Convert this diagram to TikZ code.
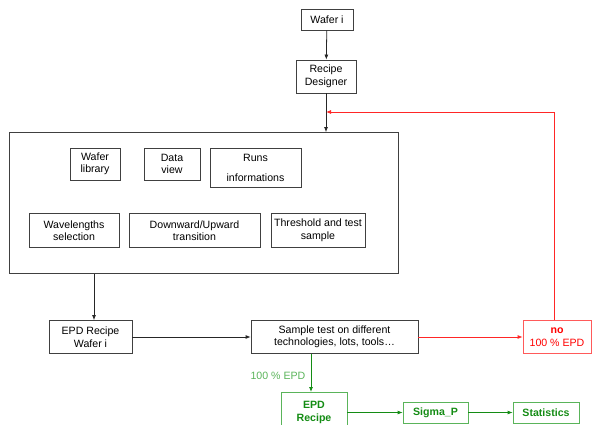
\documentclass[tikz,border=0pt]{standalone}
\usepackage{fontspec}
\setmainfont{Liberation Sans}
\usetikzlibrary{arrows.meta}
\definecolor{myred}{RGB}{255,0,0}
\definecolor{mypink}{RGB}{255,90,90}
\definecolor{mygreen}{RGB}{20,140,20}
\definecolor{mygreenl}{RGB}{90,180,90}
\begin{document}
\begin{tikzpicture}[x=1pt,y=-1pt,
  box/.style={draw=black!75,line width=0.8pt,align=center,inner sep=0pt,font=\fontsize{10.6}{12.5}\selectfont},
  gbox/.style={box,draw=mygreenl,text=mygreen,font=\fontsize{10.6}{12.5}\selectfont\bfseries},
  arr/.style={line width=0.8pt,-{Latex[length=5pt,width=4pt]}},
]
\useasboundingbox (0,0) rectangle (592,425);
\clip (0,0) rectangle (592,425);
% top
\node[box,minimum width=52pt,minimum height=21pt] (wafer) at (327,19.5) {Wafer i};
\node[box,minimum width=60pt,minimum height=33pt] (designer) at (326,76.5) {Recipe\\Designer};
% big box
\node[box,minimum width=389pt,minimum height=141pt] (big) at (203.5,203) {};
\node[box,minimum width=50pt,minimum height=32pt] (lib) at (95,164) {Wafer\\library};
\node[box,minimum width=56pt,minimum height=32pt] (view) at (172,164) {Data\\view};
\node[box,minimum width=91pt,minimum height=39pt,font=\fontsize{10.6}{20}\selectfont] (runs) at (255.5,167.5) {Runs\\informations};
\node[box,minimum width=90pt,minimum height=34pt] (wave) at (74,230.5) {Wavelengths\\selection};
\node[box,minimum width=131pt,minimum height=34pt] (down) at (194.5,230.5) {Downward/Upward\\transition};
\node[box,minimum width=94pt,minimum height=34pt] (thr) at (318,230.5) {Threshold and test\\sample};
% lower row
\node[box,minimum width=83pt,minimum height=33pt] (epd) at (90.5,337) {EPD Recipe\\Wafer i};
\node[box,minimum width=167pt,minimum height=33pt] (sample) at (334.5,337) {Sample test on different\\technologies, lots, tools\ldots};
\node[box,draw=mypink,text=myred,minimum width=68pt,minimum height=33pt] (no) at (557,337) {\textbf{no}\\100 \% EPD};
% green
\node[gbox,minimum width=66pt,minimum height=48pt,anchor=north,text depth=10pt] (epdr) at (314,392) {EPD\\Recipe};
\node[gbox,minimum width=65pt,minimum height=21pt] (sigma) at (435.5,412.5) {Sigma\_P};
\node[gbox,minimum width=66pt,minimum height=21pt] (stat) at (546,412.5) {Statistics};
\node[text=mygreenl,font=\fontsize{10.6}{12}\selectfont] (lbl) at (278,376) {100 \% EPD};
% connectors
\coordinate (join) at (326,112);
\draw[arr,black!85] (wafer) -- (designer);
\draw[arr,black!85] (designer) -- (big.north -| designer);
\draw[arr,black!85] (big.south -| 94,0) -- (epd.north -| 94,0);
\draw[arr,black!85] (epd) -- (sample);
\draw[arr,myred!85] (sample) -- (no);
\draw[arr,myred!85] (no.north -| 554,0) |- (join);
\draw[arr,mygreen] (sample.south -| 311,0) -- (epdr.north -| 311,0);
\draw[arr,mygreen] (epdr.east |- sigma) -- (sigma);
\draw[arr,mygreen] (sigma) -- (stat);
\end{tikzpicture}
\end{document}
